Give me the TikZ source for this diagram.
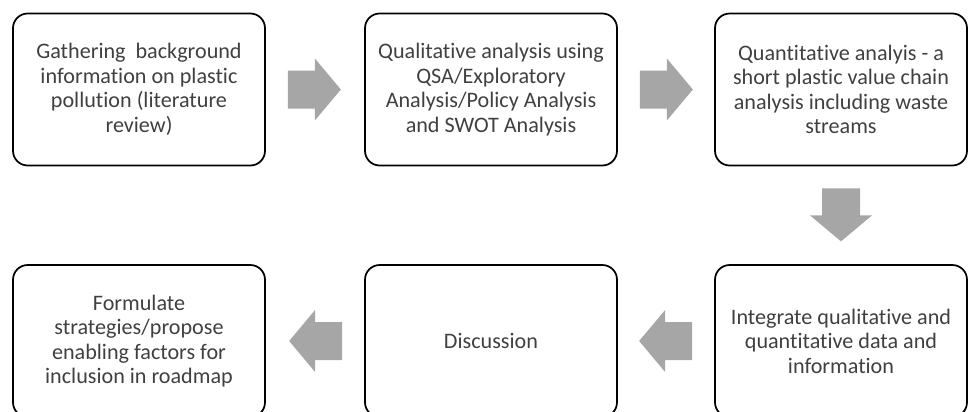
\documentclass[tikz,border=0pt]{standalone}
\usepackage{fontspec}
\setmainfont{Carlito}[Ligatures=NoCommon]
\usepackage{tikz}
\usetikzlibrary{
    positioning,
    calc
}

\tikzset{
  stepbox/.style={draw=black, line width=1.3pt, rounded corners=11pt,
    minimum width=189pt, minimum height=114pt, align=center,
    text=black!75, font=\fontsize{16.6pt}{18.4pt}\selectfont},
  blockarrow/.style={fill=black!35, draw=none}
}

\begin{document}
\begin{tikzpicture}[x=0.75pt, y=-0.75pt]
  \useasboundingbox (0,0) rectangle (968,411);
  % top row
  \node[stepbox] (gather) at (139,89.5)
    {Gathering~ background\\information on plastic\\pollution (literature\\review)};
  \node[stepbox] (qual) at (491,89.5)
    {Qualitative analysis using\\QSA/Exploratory\\Analysis/Policy Analysis\\and SWOT Analysis};
  \node[stepbox] (quant) at (841,89.5)
    {Quantitative analyis - a\\short plastic value chain\\analysis including waste\\streams};
  % bottom row
  \node[stepbox] (integ) at (841,341)
    {Integrate qualitative and\\quantitative data and\\information};
  \node[stepbox] (disc) at (491,341) {Discussion};
  \node[stepbox] (formul) at (139,341)
    {Formulate\\strategies/propose\\enabling factors for\\inclusion in roadmap};
  % block arrows
  \foreach \a/\r in {gather.east/0, qual.east/0, quant.south/-90,
                     integ.west/180, disc.west/180}
     {\fill[blockarrow, shift={(\a)}, rotate=\r]
        (22,-19) -- (49,-19) -- (49,-31) -- (75,0)
        -- (49,31) -- (49,19) -- (22,19) -- cycle;}
\end{tikzpicture}
\end{document}
